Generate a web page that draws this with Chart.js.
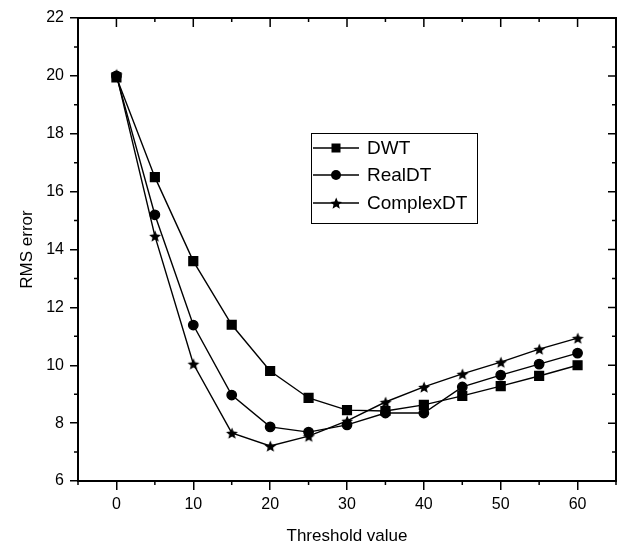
<!DOCTYPE html>
<html>
<head>
<meta charset="utf-8">
<script src="https://cdn.jsdelivr.net/npm/chart.js@4/dist/chart.umd.min.js"></script>
<style>
  body { margin: 0; background: #fff; overflow: hidden; }
  #wrap { width: 617px; height: 548px; }
</style>
</head>
<body>
<div id="wrap"><canvas id="rmsChart"></canvas></div>
<script>
// dados
const thresholds = [0, 5, 10, 15, 20, 25, 30, 35, 40, 45, 50, 55, 60];
const dwt = [19.95, 16.5, 13.6, 11.4, 9.8, 8.87, 8.45, 8.42, 8.63, 8.94, 9.28, 9.63, 10.0];
const realDT = [20.0, 15.2, 11.39, 8.97, 7.87, 7.69, 7.94, 8.35, 8.35, 9.25, 9.66, 10.04, 10.42];
const complexDT = [20.05, 14.47, 10.05, 7.66, 7.21, 7.55, 8.08, 8.73, 9.25, 9.7, 10.11, 10.56, 10.94];
const seriesNames = ['DWT', 'RealDT', 'ComplexDT'];
const xLabels = [0, 10, 20, 30, 40, 50, 60];
const yLabels = [6, 8, 10, 12, 14, 16, 18, 20, 22];

const FONT = "'Liberation Sans', Arial, sans-serif";

// estrela preenchida (o 'star' do Chart.js é só traços)
function makeStar(r) {
    const c = document.createElement('canvas');
    c.width = c.height = r * 2 + 2;
    const g = c.getContext('2d');
    g.fillStyle = '#000';
    g.beginPath();
    for (let i = 0; i < 10; i++) {
        const rad = i % 2 === 0 ? r : r * 0.45;
        const a = -Math.PI / 2 + i * Math.PI / 5;
        const px = r + 1 + rad * Math.cos(a);
        const py = r + 1 + rad * Math.sin(a) + 0.6;
        i === 0 ? g.moveTo(px, py) : g.lineTo(px, py);
    }
    g.closePath();
    g.fill();
    return c;
}
const starImg = makeStar(6.2);

const toPoints = arr => thresholds.map((t, i) => ({ x: t, y: arr[i] }));

// caixa, ticks menores, ticks internos do topo/direita e legenda
const framePlugin = {
    id: 'frame',
    afterDraw(chart) {
        const { ctx, chartArea: a, scales } = chart;
        ctx.save();
        ctx.strokeStyle = '#000';
        ctx.lineWidth = 2;
        ctx.strokeRect(a.left, a.top, a.right - a.left, a.bottom - a.top);
        ctx.lineWidth = 1.5;
        ctx.beginPath();
        for (let v = -5; v <= 65; v += 5) {
            const px = scales.x.getPixelForValue(v);
            const major = v % 10 === 0;
            ctx.moveTo(px, a.top);
            ctx.lineTo(px, a.top + (major ? 9 : 4));
            if (!major) {
                ctx.moveTo(px, a.bottom);
                ctx.lineTo(px, a.bottom + 4);
            }
        }
        for (let v = 6; v <= 22; v += 1) {
            const py = scales.y.getPixelForValue(v);
            const major = v % 2 === 0;
            ctx.moveTo(a.right, py);
            ctx.lineTo(a.right - (major ? 8 : 4), py);
            if (!major) {
                ctx.moveTo(a.left, py);
                ctx.lineTo(a.left - 4, py);
            }
        }
        ctx.stroke();

        // legenda
        const bx = 311.5, by = 133.5, bw = 166, bh = 90;
        ctx.lineWidth = 1;
        ctx.strokeRect(bx, by, bw, bh);
        ctx.font = '19px ' + FONT;
        ctx.textBaseline = 'middle';
        ctx.fillStyle = '#000';
        const rows = [148, 175, 203];
        chart.data.datasets.forEach((ds, i) => {
            const cy = rows[i];
            ctx.lineWidth = 1.3;
            ctx.beginPath();
            ctx.moveTo(313, cy);
            ctx.lineTo(359, cy);
            ctx.stroke();
            const cx = 336;
            if (i === 0) ctx.fillRect(cx - 4.5, cy - 4.5, 9, 9);
            else if (i === 1) { ctx.beginPath(); ctx.arc(cx, cy, 5, 0, Math.PI * 2); ctx.fill(); }
            else ctx.drawImage(starImg, cx - starImg.width / 2, cy - starImg.height / 2);
            ctx.fillText(ds.label, 367, cy + 1);
        });
        ctx.restore();
    }
};

const common = { borderColor: '#000', backgroundColor: '#000', borderWidth: 1.4, pointBackgroundColor: '#000', pointBorderColor: '#000' };
const majorOnly = (step) => c => (c.tick && Math.round(c.tick.value) % step === 0) ? '#000' : 'rgba(0,0,0,0)';

new Chart(document.getElementById('rmsChart'), {
    type: 'line',
    data: {
        datasets: [
            { ...common, label: seriesNames[0], data: toPoints(dwt), pointStyle: 'rect', pointRadius: 6.2 },
            { ...common, label: seriesNames[1], data: toPoints(realDT), pointStyle: 'circle', pointRadius: 4.7 },
            { ...common, label: seriesNames[2], data: toPoints(complexDT), pointStyle: starImg, pointRadius: 6 }
        ]
    },
    options: {
        responsive: true,
        maintainAspectRatio: false,
        animation: false,
        layout: { autoPadding: false, padding: { top: 18, right: 1, left: 0, bottom: 0 } },
        plugins: { legend: { display: false }, tooltip: { enabled: false } },
        scales: {
            x: {
                type: 'linear',
                min: -5, max: 65,
                afterFit: s => { s.height = 67; s.paddingLeft = 0; s.paddingRight = 0; },
                border: { color: '#000', width: 2 },
                grid: { drawOnChartArea: false, color: majorOnly(10), tickLength: 9, lineWidth: 1.5 },
                ticks: {
                    stepSize: 5, color: '#000', padding: 5, maxRotation: 0, autoSkip: false,
                    font: { family: FONT, size: 16 },
                    callback: v => xLabels.includes(v) ? String(v) : ''
                },
                title: { display: true, text: 'Threshold value', color: '#000', font: { family: FONT, size: 17 }, padding: { top: 0, bottom: 1 } }
            },
            y: {
                min: 6, max: 22,
                afterFit: s => { s.width = 78; s.paddingTop = 0; s.paddingBottom = 0; },
                border: { color: '#000', width: 2 },
                grid: { drawOnChartArea: false, color: majorOnly(2), tickLength: 8, lineWidth: 1.5 },
                ticks: {
                    stepSize: 1, color: '#000', padding: 6, autoSkip: false,
                    font: { family: FONT, size: 16 },
                    callback: v => yLabels.includes(v) ? String(v) : ''
                },
                title: { display: true, text: 'RMS error', color: '#000', font: { family: FONT, size: 17 }, padding: { top: 17, bottom: 0 } }
            }
        }
    },
    plugins: [framePlugin]
});
</script>
</body>
</html>
